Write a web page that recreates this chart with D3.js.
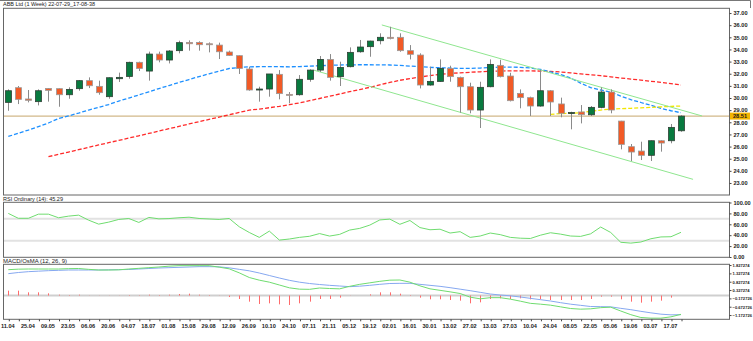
<!DOCTYPE html>
<html>
<head>
<meta charset="utf-8">
<script src="https://cdn.jsdelivr.net/npm/d3@7"></script>
<style>
  body { margin: 0; background: #fff; }
  svg { display: block; }
  text { font-family: "Liberation Sans", Arial, sans-serif; }
</style>
</head>
<body>
<svg id="chart" width="753" height="341"></svg>
<script>
// ABB Ltd weekly bars, 11.04.2022 - 24.07.2023
const openP  = [29.64,30.85,29.92,29.70,30.79,30.77,30.27,30.77,31.43,30.96,30.11,31.59,31.78,32.94,32.22,33.62,33.13,33.90,34.58,34.58,34.47,34.36,33.79,33.49,32.39,30.68,30.74,31.95,30.30,30.27,31.54,32.30,33.18,31.76,32.58,33.81,34.23,34.72,35.00,35.00,33.90,33.54,31.07,31.37,32.44,31.70,30.93,29.01,30.93,32.69,31.81,30.38,30.03,29.34,30.60,29.51,28.78,28.85,28.62,29.23,30.49,28.10,25.99,25.63,25.28,26.48,26.48,27.30];
const highP  = [30.71,30.99,30.66,30.71,30.82,30.79,30.88,31.48,31.70,31.43,31.70,32.09,32.99,32.99,33.82,33.82,33.95,34.72,34.75,34.67,34.58,34.56,33.90,33.51,32.58,30.93,31.98,32.30,30.49,31.89,32.36,33.46,33.62,32.99,34.17,34.78,34.72,35.33,35.87,35.33,34.36,33.68,32.58,33.18,32.66,31.76,31.26,31.34,33.18,33.15,32.08,30.71,30.11,32.30,30.66,30.03,28.87,29.42,29.34,30.88,30.71,28.12,26.21,26.40,26.50,26.52,27.86,28.58];
const lowP   = [28.95,29.50,29.64,29.39,29.70,29.28,29.94,30.60,30.82,30.27,29.94,31.32,31.59,32.22,31.43,32.94,32.85,33.68,33.90,33.90,33.76,33.21,33.46,31.98,30.60,29.70,30.11,29.89,29.56,30.19,31.34,32.14,31.43,30.99,32.52,33.73,33.40,34.42,34.83,33.81,33.18,30.79,31.01,31.32,31.34,28.79,28.74,27.53,30.88,31.70,29.72,29.15,28.52,29.28,28.52,28.41,27.42,27.91,28.52,29.15,28.74,25.77,24.81,24.89,24.81,25.58,26.27,27.22];
const closeP = [30.60,29.89,29.81,30.60,30.63,30.27,30.71,31.43,31.01,30.44,31.67,31.70,32.94,32.44,33.62,33.13,33.87,34.56,34.47,34.39,34.46,33.81,33.51,32.44,30.66,30.74,31.98,30.36,30.28,31.54,32.30,33.18,31.70,32.52,33.76,34.20,34.69,35.00,34.91,33.90,33.60,31.07,31.37,32.44,31.76,30.93,29.01,30.88,32.77,31.76,29.78,30.03,29.34,30.60,29.67,28.74,28.80,28.63,29.23,30.49,29.01,26.18,25.55,25.28,26.48,26.29,27.58,28.51];

// Moving averages on the price panel (null = not drawn)
const maBlue = [26.83,27.10,27.36,27.65,27.94,28.31,28.53,28.76,29.01,29.23,29.46,29.75,30.00,30.25,30.51,30.78,31.03,31.28,31.52,31.77,31.99,32.22,32.43,32.51,32.57,32.58,32.58,32.58,32.57,32.59,32.62,32.66,32.69,32.72,32.73,32.74,32.74,32.73,32.72,32.69,32.63,32.58,32.53,32.49,32.47,32.44,32.44,32.47,32.51,32.55,32.55,32.53,32.47,32.35,32.16,31.93,31.65,31.23,30.86,30.66,30.49,30.16,29.87,29.63,29.40,29.15,28.95,28.79];
const maRed = [null,null,null,null,25.17,25.36,25.55,25.74,25.94,26.13,26.32,26.51,26.70,26.89,27.08,27.28,27.47,27.66,27.86,28.05,28.24,28.43,28.62,28.81,29.00,29.09,29.20,29.31,29.45,29.60,29.78,29.96,30.15,30.33,30.52,30.70,30.88,31.09,31.28,31.46,31.60,31.73,31.84,31.95,32.03,32.07,32.12,32.16,32.20,32.22,32.24,32.24,32.23,32.22,32.20,32.14,32.07,31.99,31.91,31.84,31.74,31.65,31.56,31.48,31.38,31.29,31.19,31.07];
const maYellow = [null,null,null,null,null,null,null,null,null,null,null,null,null,null,null,null,null,null,null,null,null,null,null,null,null,null,null,null,null,null,null,null,null,null,null,null,null,null,null,null,null,null,null,null,null,null,null,null,null,null,null,null,null,null,28.66,28.71,28.74,28.79,28.90,29.01,29.09,29.12,29.15,29.19,29.23,29.27,29.31,29.34];

// Descending channel: [bar index, price] end points
const channelUpper = [[37.2, 36.02], [69.1, 28.52]];
const channelLower = [[30.4, 32.30], [68.2, 23.30]];
const lastPrice = 28.51;

// RSI(14)
const rsi = [80,71,71,78.6,78.6,72,75,76.8,67.6,60.3,64,68.9,70.7,63.4,72.6,70,70.5,72,73,70.7,69.8,68.9,70.7,55.5,45,36,47.5,31,33,36,38,43,38.4,41.5,49.4,52.5,58.5,68,69.5,60,67,54,50,51,44,46.5,36,38.5,44,41,36,34.5,34,40,44.5,42,38.5,37.8,42.5,55,45,27,25.5,27.5,33.5,36.8,37.2,45.29];

// MACD (12, 26, 9): main, signal, OsMA histogram
const macdMain = [1.55,1.58,1.59,1.59,1.59,1.59,1.61,1.62,1.57,1.53,1.53,1.54,1.59,1.63,1.67,1.71,1.76,1.79,1.79,1.79,1.79,1.70,1.60,1.36,1.08,0.92,0.80,0.63,0.46,0.38,0.37,0.45,0.42,0.40,0.55,0.67,0.76,0.85,0.92,0.93,0.80,0.58,0.40,0.31,0.22,0.12,-0.10,-0.20,-0.13,-0.13,-0.22,-0.34,-0.47,-0.52,-0.58,-0.68,-0.78,-0.82,-0.80,-0.73,-0.70,-0.93,-1.15,-1.32,-1.36,-1.36,-1.28,-1.13];
const macdSignal = [1.31,1.38,1.43,1.46,1.49,1.51,1.53,1.53,1.53,1.53,1.54,1.55,1.56,1.59,1.62,1.65,1.67,1.69,1.71,1.73,1.73,1.72,1.66,1.57,1.48,1.35,1.20,1.05,0.91,0.80,0.72,0.66,0.61,0.57,0.53,0.56,0.61,0.67,0.72,0.73,0.73,0.67,0.61,0.55,0.47,0.38,0.29,0.19,0.09,0.03,-0.02,-0.09,-0.17,-0.25,-0.33,-0.43,-0.52,-0.59,-0.66,-0.67,-0.68,-0.77,-0.85,-0.95,-1.04,-1.12,-1.16,-1.15];
const osma = [0.29,0.29,0.19,0.19,0.13,0.05,0.03,0.05,0.01,0.01,0.01,0.01,0.03,0.02,0.05,0.03,0.05,0.09,0.11,0.05,0.03,0.01,-0.09,-0.21,-0.37,-0.51,-0.47,-0.53,-0.57,-0.47,-0.37,-0.21,-0.21,-0.13,-0.01,0.0,0.07,0.19,0.19,0.11,0.03,-0.13,-0.23,-0.23,-0.27,-0.31,-0.47,-0.41,-0.21,-0.17,-0.21,-0.17,-0.23,-0.23,-0.27,-0.27,-0.27,-0.27,-0.21,-0.07,-0.07,-0.23,-0.37,-0.43,-0.37,-0.31,-0.13,0.0];

// Axis labels
const priceTicks = [23,24,25,26,27,28,29,30,31,32,33,34,35,36,37];
const rsiTicks = [0,20,40,60,80,100];
const macdTicks = [1.827274,1.327274,0.827274,0.327274,-0.172726,-0.672726,-1.172726];
const dateLabels = ["11.04","25.04","09.05","23.05","06.06","20.06","04.07","18.07","01.08","15.08","29.08","12.09","26.09","10.10","24.10","07.11","21.11","05.12","19.12","02.01","16.01","30.01","13.02","27.02","13.03","27.03","10.04","24.04","08.05","22.05","05.06","19.06","03.07","17.07"];

const titleText = "ABB Ltd (1 Week) 22-07-29_17-08-38";
const rsiTitle = "RSI Ordinary (14): 45.29";
const macdTitle = "MACD/OsMA (12, 26, 9)";

const svg = d3.select("#chart");
const L = 3, R = 729;
const panels = {
  price: {top: 8.3, bottom: 195},
  rsi:   {top: 202.3, bottom: 257.3},
  macd:  {top: 264.3, bottom: 319.3}
};

const n = closeP.length;
const x = d3.scaleLinear().domain([0, n - 1]).range([8.3, 681]);
const yP = d3.scaleLinear().domain([22.01, 37.39]).range([panels.price.bottom, panels.price.top]);
const yR = d3.scaleLinear().domain([0, 100]).range([257, 202.5]);
const yM = d3.scaleLinear().domain([-1.428, 1.872]).range([panels.macd.bottom, panels.macd.top]);

svg.append("rect").attr("width", 753).attr("height", 341).attr("fill", "#fff");

// clip paths per panel
Object.entries(panels).forEach(([k, p]) => {
  svg.append("clipPath").attr("id", "clip-" + k)
    .append("rect").attr("x", L).attr("y", p.top).attr("width", R - L).attr("height", p.bottom - p.top);
});

const labelFont = (sel) => sel.attr("font-size", 5.6).attr("font-weight", "bold").attr("fill", "#1a1a1a");

// ---------- price panel ----------
const gP = svg.append("g").attr("clip-path", "url(#clip-price)");

// last price line
gP.append("line").attr("x1", L).attr("x2", R)
  .attr("y1", yP(lastPrice)).attr("y2", yP(lastPrice))
  .attr("stroke", "#c6a66c").attr("stroke-width", 1);

const idx = d3.range(n);
const maLine = (arr) => d3.line()
  .defined(i => arr[i] != null)
  .x(i => x(i)).y(i => yP(arr[i]));

gP.append("path").attr("d", maLine(maRed)(idx)).attr("fill", "none")
  .attr("stroke", "#ff2a2a").attr("stroke-width", 1.3).attr("stroke-dasharray", "4,2");
gP.append("path").attr("d", maLine(maBlue)(idx)).attr("fill", "none")
  .attr("stroke", "#1e90ff").attr("stroke-width", 1.3).attr("stroke-dasharray", "4,2");
gP.append("path").attr("d", maLine(maYellow)(idx)).attr("fill", "none")
  .attr("stroke", "#f2e600").attr("stroke-width", 1.3).attr("stroke-dasharray", "4,2");

// channel lines
[channelUpper, channelLower].forEach(seg => {
  gP.append("path")
    .attr("d", d3.line().x(d => x(d[0])).y(d => yP(d[1]))(seg))
    .attr("stroke", "#8fe68f").attr("stroke-width", 1).attr("fill", "none");
});

// candles
const bw = 6;
const candles = gP.selectAll("g.candle").data(idx).join("g").attr("class", "candle");
candles.append("line")
  .attr("x1", i => Math.round(x(i)) + 0.5).attr("x2", i => Math.round(x(i)) + 0.5)
  .attr("y1", i => yP(highP[i])).attr("y2", i => yP(lowP[i]))
  .attr("stroke", "#8a8a8a").attr("stroke-width", 1);
candles.append("rect")
  .attr("x", i => Math.round(x(i)) + 0.5 - bw / 2)
  .attr("y", i => yP(Math.max(openP[i], closeP[i])))
  .attr("width", bw)
  .attr("height", i => Math.max(1, Math.abs(yP(openP[i]) - yP(closeP[i]))))
  .attr("fill", i => closeP[i] >= openP[i] ? "#087a3f" : "#f15a26")
  .attr("stroke", i => closeP[i] >= openP[i] ? "#2f3f35" : "#9a9a9a")
  .attr("stroke-width", 0.8);

// ---------- RSI panel ----------
const gR = svg.append("g").attr("clip-path", "url(#clip-rsi)");
[70, 30].forEach(v => {
  gR.append("line").attr("x1", L).attr("x2", R).attr("y1", yR(v)).attr("y2", yR(v))
    .attr("stroke", "#e2e2e2").attr("stroke-width", 2);
});
gR.append("path").attr("d", d3.line().x(i => x(i)).y(i => yR(rsi[i]))(idx))
  .attr("fill", "none").attr("stroke", "#6fdc6f").attr("stroke-width", 1);

// ---------- MACD panel ----------
const gM = svg.append("g").attr("clip-path", "url(#clip-macd)");
gM.append("line").attr("x1", L).attr("x2", R).attr("y1", yM(0)).attr("y2", yM(0))
  .attr("stroke", "#cfcfcf").attr("stroke-width", 2);
gM.selectAll("line.hist").data(idx.filter(i => Math.abs(osma[i]) >= 0.01)).join("line")
  .attr("class", "hist")
  .attr("x1", i => Math.round(x(i)) + 0.5).attr("x2", i => Math.round(x(i)) + 0.5)
  .attr("y1", yM(0)).attr("y2", i => yM(osma[i]))
  .attr("stroke", "#ff6b6b").attr("stroke-width", 1);
gM.append("path").attr("d", d3.line().x(i => x(i)).y(i => yM(macdSignal[i]))(idx))
  .attr("fill", "none").attr("stroke", "#86a8f0").attr("stroke-width", 1);
gM.append("path").attr("d", d3.line().x(i => x(i)).y(i => yM(macdMain[i]))(idx))
  .attr("fill", "none").attr("stroke", "#6fdc6f").attr("stroke-width", 1);

// ---------- frames ----------
svg.append("path").attr("d", "M0,0.5H750.5V8").attr("fill", "none").attr("stroke", "#777");
Object.values(panels).forEach(p => {
  svg.append("rect").attr("x", L + 0.5).attr("y", p.top).attr("width", R - L).attr("height", p.bottom - p.top)
    .attr("fill", "none").attr("stroke", "#666").attr("stroke-width", 1);
});

// ---------- axes ----------
const styleAxis = (g) => {
  g.select(".domain").remove();
  g.selectAll(".tick line").attr("stroke", "#444");
  g.selectAll(".tick text").call(labelFont).attr("x", 4);
};
svg.append("g").attr("transform", `translate(${R + 0.5},0)`)
  .call(d3.axisRight(yP).tickValues(priceTicks).tickSize(2).tickFormat(d3.format(".2f")))
  .call(styleAxis);
svg.append("g").attr("transform", `translate(${R + 0.5},0)`)
  .call(d3.axisRight(yR).tickValues(rsiTicks).tickSize(2).tickFormat(d3.format(".2f")))
  .call(styleAxis);
// MACD scale labels are long: a smaller size keeps them inside the window
svg.append("g").attr("transform", `translate(${R + 0.5},0)`)
  .call(d3.axisRight(yM).tickValues(macdTicks).tickSize(2).tickFormat(d3.format(".6f")))
  .call(styleAxis)
  .call(g => g.selectAll(".tick text").attr("font-size", 4.1).attr("x", 3));

// last price badge
svg.append("rect").attr("x", R + 1).attr("y", yP(lastPrice) - 3.5).attr("width", 20).attr("height", 7)
  .attr("fill", "#f2b400");
svg.append("text").attr("x", R + 4).attr("y", yP(lastPrice)).attr("dy", "0.35em")
  .text(d3.format(".2f")(lastPrice)).call(labelFont);

// time axis
const gx = svg.append("g").attr("transform", `translate(0.5,${panels.macd.bottom})`)
  .call(d3.axisBottom(x).tickValues(idx).tickSize(2)
    .tickFormat(i => i % 2 === 0 ? dateLabels[i / 2] : ""));
gx.select(".domain").remove();
gx.selectAll(".tick line").attr("stroke", "#444");
gx.selectAll(".tick text").call(labelFont).attr("y", 5).attr("dx", -1.5);

// titles
svg.append("text").attr("x", 3).attr("y", 6).text(titleText).call(labelFont)
  .attr("font-weight", "normal").attr("textLength", 92).attr("lengthAdjust", "spacingAndGlyphs");
svg.append("text").attr("x", 3).attr("y", 201).text(rsiTitle).call(labelFont)
  .attr("font-weight", "normal").attr("textLength", 60).attr("lengthAdjust", "spacingAndGlyphs");
svg.append("text").attr("x", 3).attr("y", 262.5).text(macdTitle).call(labelFont)
  .attr("font-weight", "normal").attr("textLength", 64).attr("lengthAdjust", "spacingAndGlyphs");
</script>
</body>
</html>
